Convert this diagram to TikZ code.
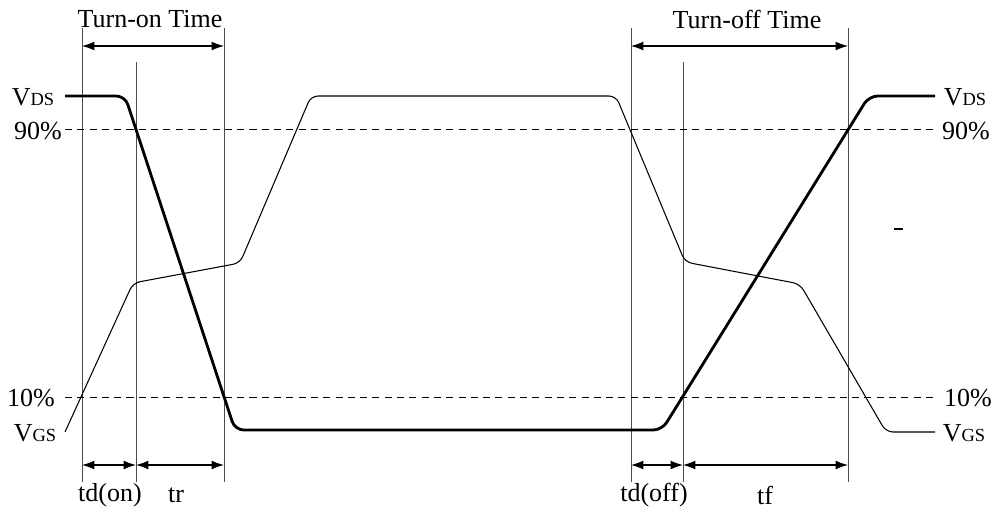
\documentclass[tikz,border=0pt]{standalone}
\usepackage{fontspec}
\setmainfont{Liberation Serif}
\usetikzlibrary{arrows.meta}

\begin{document}
\begin{tikzpicture}[x=0.02cm,y=-0.02cm,
    lbl/.style={inner sep=0pt,font=\fontsize{14.8}{16}\selectfont},
    guide/.style={gray!60!black,line width=0.45pt},
    level/.style={line width=0.5pt,dash pattern=on 4pt off 3pt},
    vds/.style={line width=1.6pt,rounded corners=5pt},
    vgs/.style={line width=0.6pt,rounded corners=4pt},
    span/.style={{Latex[length=7pt,width=5pt]}-{Latex[length=7pt,width=5pt]},line width=0.6pt}]
  \useasboundingbox (0,0) rectangle (995,512);
  % time marks
  \foreach \name/\x/\top in {a/82/28,b/136/62,c/224/28,d/631/28,e/683/62,f/848/28}{
    \coordinate (\name top) at (\x,\top);
    \coordinate (\name bot) at (\x,482);
    \coordinate (\name up) at (\x,46);
    \coordinate (\name dn) at (\x,465);
    \draw[guide] (\name top) -- (\name bot);
  }
  % 90% and 10% levels
  \coordinate (hiL) at (65,129);
  \coordinate (hiR) at (935,129);
  \coordinate (loL) at (65,397);
  \coordinate (loR) at (935,397);
  \draw[level] (hiL) -- (hiR);
  \draw[level] (loL) -- (loR);
  % drain-source voltage
  \draw[vds] (65,96) -- (125,96) -- (235,430) -- (662,430) -- (869,96) -- (935,96);
  % gate-source voltage
  \draw[vgs] (65,432) -- (133,283) -- (240,263) -- (311,96) -- (616,96)
    -- (685,262) -- (800,284) -- (886,432) -- (935,432);
  \draw[line width=0.6pt] (894,229) -- (903,229);
  % interval arrows
  \draw[span] (aup) -- (cup);
  \draw[span] (dup) -- (fup);
  \draw[span] (adn) -- (bdn);
  \draw[span] (bdn) -- (cdn);
  \draw[span] (ddn) -- (edn);
  \draw[span] (edn) -- (fdn);
  % labels
  \node[lbl] (ton) at (150,19) {Turn-on Time};
  \node[lbl] (toff) at (747,19) {Turn-off Time};
  \node[lbl] (tdon) at (110,495) {td(on)};
  \node[lbl] (tr) at (176,495) {tr};
  \node[lbl] (tdoff) at (654,495) {td(off)};
  \node[lbl] (tf) at (765,495) {tf};
  \node[lbl] (vdsL) at (33,97) {V{\fontsize{10.5}{12}\selectfont DS}};
  \node[lbl] (vdsR) at (965,97) {V{\fontsize{10.5}{12}\selectfont DS}};
  \node[lbl] (hiLt) at (38,131) {90\%};
  \node[lbl] (hiRt) at (966,131) {90\%};
  \node[lbl] (loLt) at (31,398) {10\%};
  \node[lbl] (loRt) at (968,398) {10\%};
  \node[lbl] (vgsL) at (35,433) {V{\fontsize{10.5}{12}\selectfont GS}};
  \node[lbl] (vgsR) at (964,433) {V{\fontsize{10.5}{12}\selectfont GS}};
\end{tikzpicture}
\end{document}
